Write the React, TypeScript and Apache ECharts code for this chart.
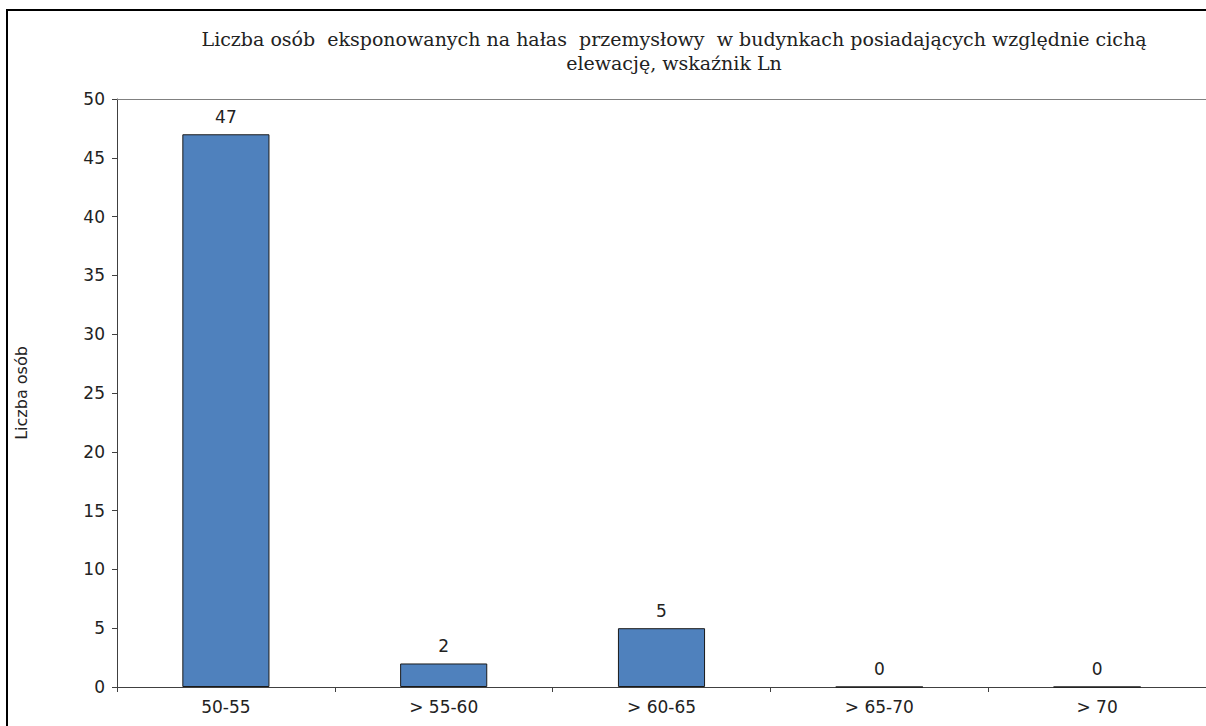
import React, { useEffect, useRef } from "react";
import * as echarts from "echarts";

const categories = ["50-55", "> 55-60", "> 60-65", "> 65-70", "> 70"];
const values = [47, 2, 5, 0, 0];
const yTicks = { min: 0, max: 50, interval: 5 };
const titleText =
  "Liczba osób  eksponowanych na hałas  przemysłowy  w budynkach posiadających względnie cichą\nelewację, wskaźnik Ln";
const yName = "Liczba osób";

export default function App() {
  const ref = useRef<HTMLDivElement>(null);
  useEffect(() => {
    if (!ref.current) return;
    const chart = echarts.init(ref.current, null, { renderer: "svg" });
    const sans = "'DejaVu Sans', 'Liberation Sans', Arial, sans-serif";
    chart.setOption({
      animation: false,
      backgroundColor: "#ffffff",
      title: {
        text: titleText,
        left: 669,
        top: 22,
        textAlign: "center",
        textStyle: {
          fontFamily: "'DejaVu Serif', serif",
          fontWeight: "normal",
          fontSize: 19,
          lineHeight: 24,
          color: "#222",
        },
      },
      graphic: [
        {
          type: "rect",
          shape: { x: 7, y: 10, width: 1400, height: 900 },
          style: { fill: "none", stroke: "#000", lineWidth: 2 },
          silent: true,
          z: 100,
        },
      ],
      grid: { left: 117, right: 0, top: 99, bottom: 39, containLabel: false },
      xAxis: {
        type: "category",
        data: categories,
        axisLine: { show: true, lineStyle: { color: "#404040", width: 1 } },
        axisTick: { show: true, alignWithLabel: false, length: 5, lineStyle: { color: "#404040" } },
        axisLabel: { fontFamily: sans, fontSize: 17, color: "#222", margin: 11 },
      },
      yAxis: {
        type: "value",
        min: yTicks.min,
        max: yTicks.max,
        interval: yTicks.interval,
        name: yName,
        nameLocation: "middle",
        nameGap: 88,
        nameRotate: 90,
        nameTextStyle: { fontFamily: sans, fontSize: 16, color: "#222" },
        axisLine: { show: true, lineStyle: { color: "#404040", width: 1 } },
        axisTick: { show: true, length: 5, lineStyle: { color: "#404040" } },
        axisLabel: { fontFamily: sans, fontSize: 17, color: "#222", margin: 12 },
        splitLine: { show: false },
      },
      series: [
        {
          type: "bar",
          data: values,
          barCategoryGap: "60%",
          itemStyle: { color: "#4F81BD", borderColor: "#1a1a1a", borderWidth: 1 },
          label: {
            show: true,
            position: "top",
            distance: 9,
            fontFamily: sans,
            fontSize: 17,
            color: "#222",
          },
          markLine: {
            silent: true,
            symbol: "none",
            label: { show: false },
            lineStyle: { color: "#808080", width: 1, type: "solid" },
            data: [{ yAxis: yTicks.max }],
          },
        },
      ],
    });
    return () => chart.dispose();
  }, []);
  return (
    <div
      ref={ref}
      style={{ position: "absolute", left: 0, top: 0, width: 1206, height: 726 }}
    />
  );
}
